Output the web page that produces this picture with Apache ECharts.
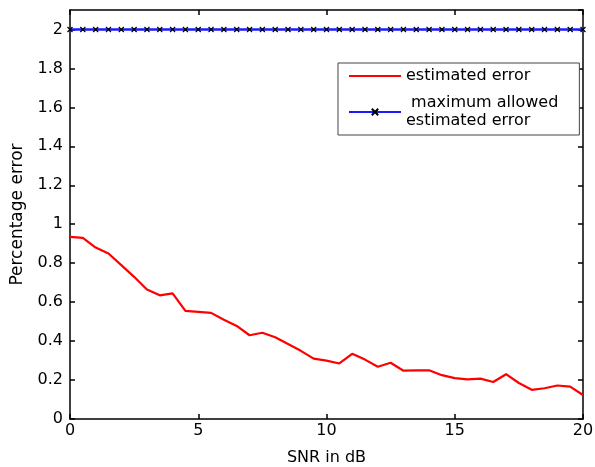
<!DOCTYPE html>
<html>
<head>
<meta charset="utf-8">
<script src="https://cdn.jsdelivr.net/npm/echarts@6/dist/echarts.min.js"></script>
<style>
  html, body { margin: 0; padding: 0; background: #fff; }
  #chart { width: 595px; height: 467px; }
</style>
</head>
<body>
<div id="chart"></div>
<script>
  // SNR in dB, step 0.5
  const snr = [];
  for (let i = 0; i <= 40; i++) snr.push(i / 2);

  const estimatedError = [
    0.935, 0.93, 0.88, 0.85, 0.79, 0.73, 0.665, 0.635, 0.645, 0.555,
    0.55, 0.545, 0.51, 0.478, 0.43, 0.443, 0.42, 0.385, 0.35, 0.31,
    0.30, 0.285, 0.335, 0.305, 0.268, 0.289, 0.248, 0.25, 0.25, 0.225,
    0.21, 0.203, 0.207, 0.19, 0.23, 0.185, 0.15, 0.158, 0.172, 0.166,
    0.123
  ];
  const maxAllowed = snr.map(() => 2);

  const yTicks = [0, 0.2, 0.4, 0.6, 0.8, 1, 1.2, 1.4, 1.6, 1.8, 2];

  const seriesNames = ['estimated error', ' maximum allowed\nestimated error'];

  const font = 'DejaVu Sans, Verdana, sans-serif';
  const crossPath = 'path://M0,0L10,10M10,0L0,10';

  const chart = echarts.init(document.getElementById('chart'), null, { renderer: 'canvas' });

  const axisLine = { show: true, onZero: false, lineStyle: { color: '#000', width: 1.5 } };
  const inTick = { show: true, inside: true, length: 5, lineStyle: { color: '#000', width: 1.5 } };

  chart.setOption({
    animation: false,
    backgroundColor: '#fff',
    grid: { left: 70, right: 12, top: 10, bottom: 48, containLabel: false, outerBoundsMode: 'none' },
    legend: {
      orient: 'vertical',
      left: 338,
      top: 63,
      padding: [4, 21, 5, 10],
      itemGap: 9,
      itemWidth: 52,
      itemHeight: 8,
      borderColor: '#444',
      borderWidth: 1,
      backgroundColor: '#fff',
      textStyle: { fontFamily: font, fontSize: 16, color: '#000', lineHeight: 18 },
      data: [
        { name: seriesNames[0], itemStyle: { opacity: 0 } },
        { name: seriesNames[1] }
      ]
    },
    xAxis: [
      {
        type: 'value', min: 0, max: 20, interval: 5,
        name: 'SNR in dB', nameLocation: 'middle', nameGap: 31,
        nameTextStyle: { fontFamily: font, fontSize: 16, color: '#000' },
        axisLine, axisTick: inTick,
        axisLabel: { fontFamily: font, fontSize: 16, color: '#000', margin: 4 },
        splitLine: { show: false }
      },
      {
        type: 'value', position: 'top', min: 0, max: 20, interval: 5,
        axisLine, axisTick: inTick, axisLabel: { show: false }, splitLine: { show: false }
      }
    ],
    yAxis: [
      {
        type: 'value', min: 0, max: 2.1, interval: 0.2,
        name: 'Percentage error', nameLocation: 'middle', nameGap: 44,
        nameTextStyle: { fontFamily: font, fontSize: 17, color: '#000' },
        axisLine, axisTick: inTick,
        axisLabel: {
          fontFamily: font, fontSize: 16, color: '#000', margin: 7, showMaxLabel: false,
          formatter: v => yTicks.some(t => Math.abs(t - v) < 1e-6) ? String(+v.toFixed(1)) : ''
        },
        splitLine: { show: false }
      },
      {
        type: 'value', position: 'right', min: 0, max: 2.1, interval: 0.2,
        axisLine, axisTick: inTick, axisLabel: { show: false }, splitLine: { show: false }
      }
    ],
    series: [
      {
        name: seriesNames[0],
        type: 'line',
        data: snr.map((x, i) => [x, estimatedError[i]]),
        symbol: 'none',
        lineStyle: { color: '#ff0000', width: 2.2 },
        itemStyle: { color: '#ff0000' }
      },
      {
        name: seriesNames[1],
        type: 'line',
        data: snr.map((x, i) => [x, maxAllowed[i]]),
        symbol: crossPath,
        symbolSize: 5,
        showSymbol: true,
        lineStyle: { color: '#1a1aff', width: 2.5 },
        itemStyle: { color: 'none', borderColor: '#000', borderWidth: 1.2 },
        z: 3
      }
    ]
  });
</script>
</body>
</html>
